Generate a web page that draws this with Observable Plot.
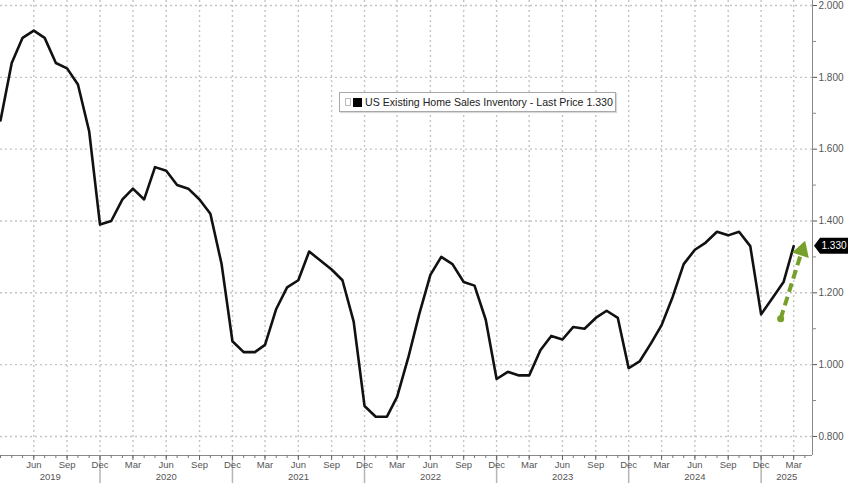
<!DOCTYPE html>
<html>
<head>
<meta charset="utf-8">
<script src="https://cdn.jsdelivr.net/npm/d3@7"></script>
<script src="https://cdn.jsdelivr.net/npm/@observablehq/plot@0.6"></script>
<style>
  html, body { margin: 0; padding: 0; background: #fff; }
  #wrap { position: relative; width: 848px; height: 483px; overflow: hidden; }
  #legend {
    position: absolute; left: 339px; top: 92px; width: 277px; height: 20px;
    border: 1px solid #a8a8a8; background: #fff; box-shadow: 1px 1px 1px rgba(0,0,0,0.15);
    font-family: "Liberation Sans", Arial, sans-serif; font-size: 10.6px; color: #222;
    display: flex; align-items: center; white-space: nowrap; box-sizing: border-box;
  }
  #legend .g { display:inline-block; width:4px; height:6px; border:1px solid #bbb; margin-left:5px; }
  #legend .k { display:inline-block; width:9px; height:9px; background:#000; margin-left:2px; margin-right:3px; }
</style>
</head>
<body>
<div id="wrap"><div id="legend"><span class="g"></span><span class="k"></span><span id="legtext"></span></div></div>
<script>
// ---- data ----
const seriesName = "US Existing Home Sales Inventory";
const startMonth = "2019-03-01";
// Monthly inventory (millions), Mar 2019 .. Mar 2025
const inventory = [
  1.68, 1.84, 1.91, 1.93, 1.91, 1.84, 1.825, 1.78, 1.65, 1.39,
  1.40, 1.46, 1.49, 1.46, 1.55, 1.54, 1.50, 1.49, 1.46, 1.42, 1.28, 1.065,
  1.035, 1.035, 1.055, 1.155, 1.215, 1.235, 1.315, 1.29, 1.265, 1.235, 1.12, 0.885,
  0.855, 0.855, 0.91, 1.02, 1.14, 1.25, 1.30, 1.28, 1.23, 1.22, 1.125, 0.96,
  0.98, 0.97, 0.97, 1.04, 1.08, 1.07, 1.105, 1.10, 1.13, 1.15, 1.13, 0.99,
  1.01, 1.06, 1.11, 1.19, 1.28, 1.32, 1.34, 1.37, 1.36, 1.37, 1.33, 1.14,
  1.185, 1.23, 1.33
];
const yTicks = [0.8, 1.0, 1.2, 1.4, 1.6, 1.8, 2.0];
const yMinorTicks = [0.9, 1.1, 1.3, 1.5, 1.7, 1.9];
const labeledMonths = ["Mar", "Jun", "Sep", "Dec"];
const xDomain = [new Date("2019-03-01"), new Date("2025-04-22")];
const yDomain = [0.747, 2.014];
// annotation arrow (green dashed) : [date, value]
const arrowStart = [new Date("2025-01-24"), 1.128];
const arrowHead = [new Date("2025-03-24"), 1.318];

// ---- build ----
const fmtMonth = d3.utcFormat("%b");
const start = new Date(startMonth);
const data = inventory.map((v, i) => ({ date: d3.utcMonth.offset(start, i), value: v }));
const allMonths = d3.utcMonth.range(xDomain[0], xDomain[1]);
const quarterMonths = allMonths.filter(d => labeledMonths.includes(fmtMonth(d)) && +d > +xDomain[0]);
const decMonths = allMonths.filter(d => d.getUTCMonth() === 11);
const bounds = [xDomain[0], ...decMonths, xDomain[1]];
const yearMids = d3.pairs(bounds).map(([a, b]) => new Date((+a + +b) / 2));
const last = inventory[inventory.length - 1];
const fmt3 = d3.format(".3f");
document.getElementById("legtext").textContent = `${seriesName} - Last Price ${fmt3(last)}`;

const green = "#76a02a";
const grid = { stroke: "#c4c4c4", strokeOpacity: 1, strokeWidth: 1.4, strokeDasharray: "2,3" };

const chart = Plot.plot({
  width: 848, height: 483,
  marginTop: 0, marginLeft: 0, marginRight: 36, marginBottom: 28,
  x: { type: "utc", domain: xDomain, label: null },
  y: { domain: yDomain, label: null },
  style: { fontFamily: "'Liberation Sans', Arial, sans-serif", fontSize: "9.5px", color: "#555", background: "#fff" },
  marks: [
    Plot.gridY(yTicks, grid),
    Plot.gridX(quarterMonths, grid),
    Plot.ruleY([yDomain[0]], { stroke: "#8a8a8a", strokeWidth: 1 }),
    Plot.ruleX([xDomain[1]], { stroke: "#8a8a8a", strokeWidth: 1 }),
    Plot.axisY({ anchor: "right", label: null, ticks: yTicks, tickFormat: fmt3, tickSize: 4, tickPadding: 2, stroke: "#555", fill: "#555", fontSize: "10px" }),
    Plot.axisY({ anchor: "right", label: null, ticks: yMinorTicks, tickFormat: () => "", tickSize: 3, stroke: "#888" }),
    Plot.axisX({ label: null, ticks: allMonths, tickFormat: () => "", tickSize: 3, stroke: "#777" }),
    Plot.axisX({ label: null, ticks: decMonths, tickFormat: () => "", tickSize: 28, stroke: "#b5b5b5", strokeWidth: 1.5 }),
    Plot.axisX({ label: null, ticks: quarterMonths, tickFormat: fmtMonth, tickSize: 5, tickPadding: 1, stroke: "#666", fill: "#555" }),
    Plot.axisX({ label: null, ticks: yearMids, tickFormat: d => d3.utcFormat("%Y")(d), tickSize: 0, tickPadding: 18, fill: "#555" }),
    Plot.line(data, { x: "date", y: "value", stroke: "#111", strokeWidth: 2.6, strokeLinejoin: "round" }),
    Plot.link([{ a: arrowStart, b: arrowHead }], {
      x1: d => d.a[0], y1: d => d.a[1], x2: d => d.b[0], y2: d => d.b[1],
      stroke: green, strokeWidth: 4, strokeDasharray: "9,5"
    }),
    Plot.dot([arrowStart], { x: d => d[0], y: d => d[1], r: 3.5, fill: green }),
    Plot.dot([arrowHead], { x: d => d[0], y: d => d[1], symbol: "triangle", r: 6.5, fill: green, rotate: 18 })
  ]
});

document.getElementById("wrap").prepend(chart);

// last price tag on right axis
const ys = chart.scale("y");
const xs = chart.scale("x");
const ty = ys.apply(last);
const tx = xs.apply(xDomain[1]) + 2;
const svg = d3.select(chart);
svg.append("path")
  .attr("d", `M${tx},${ty} L${tx + 6},${ty - 8} L848,${ty - 8} L848,${ty + 8} L${tx + 6},${ty + 8} Z`)
  .attr("fill", "#000");
svg.append("text")
  .attr("x", tx + 20).attr("y", ty).attr("dy", "0.35em")
  .attr("text-anchor", "middle").attr("fill", "#fff")
  .attr("font-size", "10px").attr("font-family", "'Liberation Sans', Arial, sans-serif")
  .text(fmt3(last));
</script>
</body>
</html>
